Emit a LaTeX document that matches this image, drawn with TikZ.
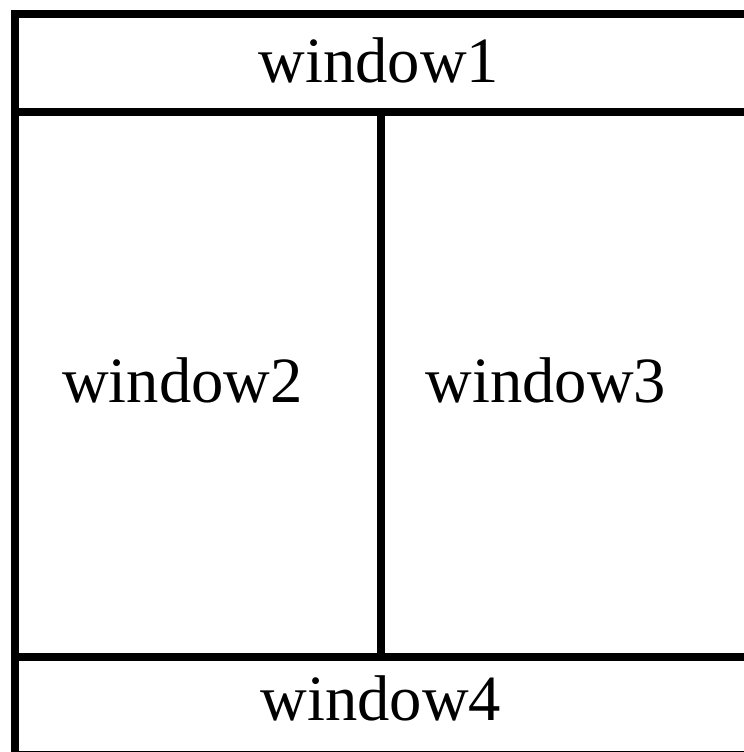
\documentclass[tikz,border=0pt]{standalone}
\usepackage{fontspec}
\setmainfont{Liberation Serif}
\usepackage{tikz}

\begin{document}
\begin{tikzpicture}[x=0.5pt, y=-0.5pt, line width=3.8pt,
  every node/.style = {anchor=base, inner sep=0pt,
    font=\fontsize{32.3}{38}\selectfont}]
  \useasboundingbox (0,0) rectangle (744,752);
  % frame and splits
  \coordinate (tl) at (15,14);
  \coordinate (br) at (748,755);
  \coordinate (topl) at (15,112);
  \coordinate (topr) at (748,112);
  \coordinate (botl) at (15,657);
  \coordinate (botr) at (748,657);
  \coordinate (midt) at (381,112);
  \coordinate (midb) at (381,657);
  \draw (tl) rectangle (br);
  \draw (topl) -- (topr);
  \draw (botl) -- (botr);
  \draw (midt) -- (midb);
  % labels
  \node (win1) at (379,82) {window1};
  \node (win2) at (182.5,402) {window2};
  \node (win3) at (546,402) {window3};
  \node (win4) at (381,720) {window4};
\end{tikzpicture}
\end{document}
